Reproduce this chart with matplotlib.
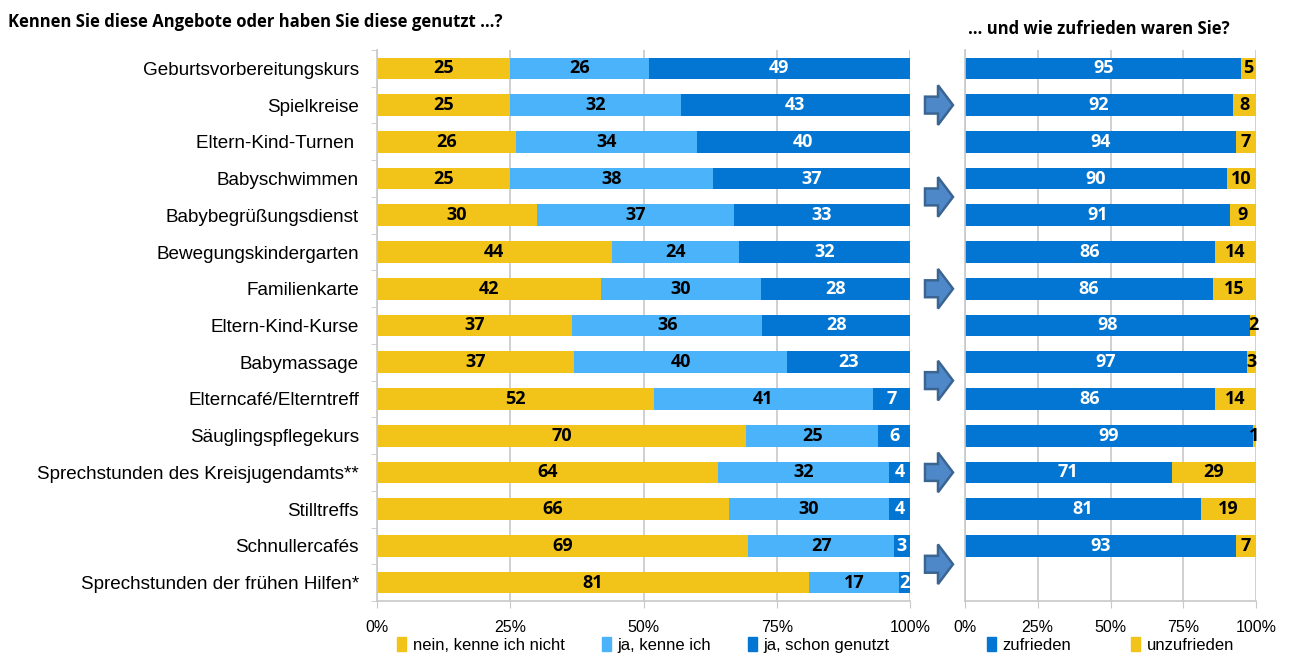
import matplotlib
matplotlib.use("Agg")
import matplotlib.pyplot as plt
import numpy as np
from matplotlib.patches import FancyArrow, Patch
from matplotlib.ticker import FixedLocator, PercentFormatter

# Angebote (oben nach unten)
categories = [
    "Geburtsvorbereitungskurs",
    "Spielkreise",
    "Eltern-Kind-Turnen ",
    "Babyschwimmen",
    "Babybegrüßungsdienst",
    "Bewegungskindergarten",
    "Familienkarte",
    "Eltern-Kind-Kurse",
    "Babymassage",
    "Elterncafé/Elterntreff",
    "Säuglingspflegekurs",
    "Sprechstunden des Kreisjugendamts**",
    "Stilltreffs",
    "Schnullercafés",
    "Sprechstunden der frühen Hilfen*",
]

# Bekanntheit / Nutzung in %
nein_kenne_nicht = [25, 25, 26, 25, 30, 44, 42, 37, 37, 52, 70, 64, 66, 69, 81]
ja_kenne = [26, 32, 34, 38, 37, 24, 30, 36, 40, 41, 25, 32, 30, 27, 17]
ja_genutzt = [49, 43, 40, 37, 33, 32, 28, 28, 23, 7, 6, 4, 4, 3, 2]

# Zufriedenheit der Nutzer in % (für frühe Hilfen keine Angabe)
zufrieden = [95, 92, 94, 90, 91, 86, 86, 98, 97, 86, 99, 71, 81, 93, None]
unzufrieden = [5, 8, 7, 10, 9, 14, 15, 2, 3, 14, 1, 29, 19, 7, None]

pct_ticks = [0, 25, 50, 75, 100]
arrow_rows = [1.0, 3.5, 6.0, 8.5, 11.0, 13.5]

YELLOW = "#F2C318"
LIGHT = "#4BB3FA"
BLUE = "#0276D2"
GRID = "#C8C8C8"

plt.rcParams["font.family"] = ["Liberation Sans", "DejaVu Sans"]

fig = plt.figure(figsize=(12.93, 6.62), dpi=100)
W, H = 1293, 662
top_px, bot_px = 50, 601


def make_axes(x0, x1):
    return fig.add_axes([x0 / W, 1 - bot_px / H, (x1 - x0) / W, (bot_px - top_px) / H])


def style_axes(ax):
    ax.set_xlim(0, 100)
    ax.set_ylim(len(categories) - 0.5, -0.5)
    ax.xaxis.set_major_locator(FixedLocator(pct_ticks))
    ax.xaxis.set_major_formatter(PercentFormatter(decimals=0))
    ax.grid(axis="x", color=GRID, linewidth=1.2)
    ax.set_axisbelow(True)
    for side in ["top", "right"]:
        ax.spines[side].set_visible(False)
    for side in ["left", "bottom"]:
        ax.spines[side].set_color(GRID)
        ax.spines[side].set_linewidth(1.2)
    ax.tick_params(axis="x", length=5, color=GRID, labelsize=11.5, pad=9)


def bar_label(ax, left, width, y, text, color):
    ax.text(left + width / 2, y, text, ha="center", va="center",
            fontsize=13, fontweight="bold", color=color, family="Open Sans")


def add_legend(ax, handles, spacing):
    ax.legend(handles=handles, loc="upper center", bbox_to_anchor=(0.5, -0.045),
              ncol=len(handles), frameon=False, fontsize=12, handlelength=0.55,
              handleheight=0.9, handletextpad=0.4, columnspacing=spacing, borderpad=0.2)


ypos = np.arange(len(categories))
bar_h = 0.59

# linkes Diagramm: Bekanntheit
ax1 = make_axes(377, 910)
style_axes(ax1)
segs = [(nein_kenne_nicht, YELLOW, "black", "nein, kenne ich nicht"),
        (ja_kenne, LIGHT, "black", "ja, kenne ich"),
        (ja_genutzt, BLUE, "white", "ja, schon genutzt")]
totals = np.array(nein_kenne_nicht) + np.array(ja_kenne) + np.array(ja_genutzt)
left = np.zeros(len(categories))
for vals, col, tcol, name in segs:
    w = np.array(vals) / totals * 100
    ax1.barh(ypos, w, left=left, height=bar_h, color=col, label=name)
    for i, v in enumerate(vals):
        bar_label(ax1, left[i], w[i], ypos[i], str(v), tcol)
    left += w
ax1.set_yticks(ypos)
ax1.set_yticklabels(categories, fontsize=13.6)
ax1.set_yticks(np.arange(len(categories) + 1) - 0.5, minor=True)
ax1.tick_params(axis="y", which="major", length=0, pad=13)
ax1.tick_params(axis="y", which="minor", length=4, color=GRID)
add_legend(ax1, [Patch(color=c, label=n) for _, c, _, n in segs], 2.2)

# rechtes Diagramm: Zufriedenheit
ax2 = make_axes(965, 1256)
style_axes(ax2)
ax2.set_yticks([])
rows = [i for i, z in enumerate(zufrieden) if z is not None]
z = np.array([zufrieden[i] for i in rows], dtype=float)
u = np.array([unzufrieden[i] for i in rows], dtype=float)
tot = z + u
zw = z / tot * 100
uw = u / tot * 100
ax2.barh(rows, zw, height=bar_h, color=BLUE)
ax2.barh(rows, uw, left=zw, height=bar_h, color=YELLOW)
for k, i in enumerate(rows):
    bar_label(ax2, 0, zw[k], i, str(int(z[k])), "white")
    bar_label(ax2, zw[k], uw[k], i, str(int(u[k])), "black")
add_legend(ax2, [Patch(color=BLUE, label="zufrieden"),
                 Patch(color=YELLOW, label="unzufrieden")], 3.6)

# Pfeile zwischen den Diagrammen
axa = make_axes(920, 960)
axa.set_xlim(0, 40)
axa.set_ylim(len(categories) - 0.5, -0.5)
axa.axis("off")
for r in arrow_rows:
    axa.add_patch(FancyArrow(5, r, 28, 0, width=0.46, head_width=1.08, head_length=15,
                             length_includes_head=True, facecolor="#4F88C8",
                             edgecolor="#3A6592", linewidth=1.8))

fig.text(8 / W, 1 - 22 / H, "Kennen Sie diese Angebote oder haben Sie diese genutzt …?",
         fontsize=12, fontweight="bold", family="Open Sans", va="center")
fig.text(1099 / W, 1 - 29 / H, "… und wie zufrieden waren Sie?",
         fontsize=12, fontweight="bold", family="Open Sans", va="center", ha="center")

fig.savefig("out.png", dpi=100)
